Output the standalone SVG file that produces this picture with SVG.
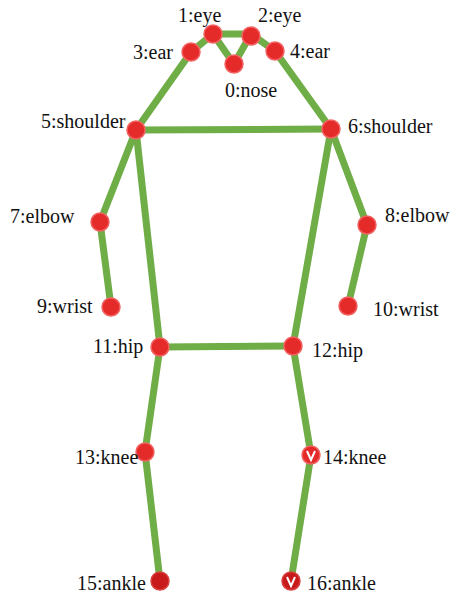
<svg xmlns="http://www.w3.org/2000/svg" width="456" height="599" viewBox="0 0 456 599">
<style>
.bone{stroke:#6fad47;stroke-width:7;stroke-linecap:round;fill:none}
.kp{fill:#e52a2a;stroke:#f26262;stroke-width:1.5}
.dark{fill:#c81a1a;stroke:#d84040;stroke-width:1.5}
.v{stroke:#fff;stroke-width:2;fill:none}
.lbl{font-family:'Liberation Serif','Times New Roman',Times,serif;font-size:20px;fill:#111}
</style>
<rect width="456" height="599" fill="#fff"/>
<g id="connectors">
<line class="bone" x1="213" y1="34" x2="251" y2="34"/>
<line class="bone" x1="213" y1="34" x2="234" y2="64"/>
<line class="bone" x1="251" y1="34" x2="234" y2="64"/>
<line class="bone" x1="213" y1="34" x2="191" y2="52"/>
<line class="bone" x1="251" y1="34" x2="275" y2="51"/>
<line class="bone" x1="191" y1="52" x2="136" y2="130"/>
<line class="bone" x1="275" y1="51" x2="331" y2="129"/>
<line class="bone" x1="136" y1="130" x2="331" y2="129"/>
<line class="bone" x1="136" y1="130" x2="100" y2="222"/>
<line class="bone" x1="100" y1="222" x2="111" y2="307"/>
<line class="bone" x1="331" y1="129" x2="367" y2="225"/>
<line class="bone" x1="367" y1="225" x2="348" y2="306"/>
<line class="bone" x1="136" y1="130" x2="160" y2="347"/>
<line class="bone" x1="331" y1="129" x2="293" y2="346"/>
<line class="bone" x1="160" y1="347" x2="293" y2="346"/>
<line class="bone" x1="160" y1="347" x2="145" y2="452"/>
<line class="bone" x1="145" y1="452" x2="160" y2="581"/>
<line class="bone" x1="293" y1="346" x2="311" y2="455"/>
<line class="bone" x1="311" y1="455" x2="291" y2="581"/>
</g>
<g font-family="Liberation Serif, Times New Roman, serif" font-size="20" fill="#111">
<g id="n0"><circle class="kp" cx="234" cy="64" r="9"/><text class="lbl" x="225" y="97">0:nose</text></g>
<g id="n1"><circle class="kp" cx="213" cy="34" r="9"/><text class="lbl" x="178" y="22">1:eye</text></g>
<g id="n2"><circle class="kp" cx="251" cy="36" r="9"/><text class="lbl" x="258" y="22">2:eye</text></g>
<g id="n3"><circle class="kp" cx="191" cy="52" r="9"/><text class="lbl" x="133" y="59">3:ear</text></g>
<g id="n4"><circle class="kp" cx="275" cy="51" r="9"/><text class="lbl" x="290" y="58">4:ear</text></g>
<g id="n5"><circle class="kp" cx="136" cy="130" r="9"/><text class="lbl" x="41" y="128">5:shoulder</text></g>
<g id="n6"><circle class="kp" cx="331" cy="129" r="9"/><text class="lbl" x="348" y="133">6:shoulder</text></g>
<g id="n7"><circle class="kp" cx="100" cy="222" r="9"/><text class="lbl" x="10" y="223">7:elbow</text></g>
<g id="n8"><circle class="kp" cx="367" cy="225" r="9"/><text class="lbl" x="385" y="222">8:elbow</text></g>
<g id="n9"><circle class="kp" cx="111" cy="307" r="9"/><text class="lbl" x="37" y="313">9:wrist</text></g>
<g id="n10"><circle class="kp" cx="348" cy="306" r="9"/><text class="lbl" x="373" y="316">10:wrist</text></g>
<g id="n11"><circle class="kp" cx="160" cy="347" r="9"/><text class="lbl" x="93" y="353">11:hip</text></g>
<g id="n12"><circle class="kp" cx="293" cy="346" r="9"/><text class="lbl" x="312" y="357">12:hip</text></g>
<g id="n13"><circle class="kp" cx="145" cy="452" r="9"/><text class="lbl" x="75" y="464">13:knee</text></g>
<g id="n14"><circle class="kp" cx="311" cy="455" r="9"/><polyline class="v" points="307,451 311,460 315,451"/><text class="lbl" x="323" y="464">14:knee</text></g>
<g id="n15"><circle class="dark" cx="160" cy="581" r="9"/><text class="lbl" x="77" y="590">15:ankle</text></g>
<g id="n16"><circle class="dark" cx="291" cy="581" r="9"/><polyline class="v" points="287,577 291,586 295,577"/><text class="lbl" x="307" y="590">16:ankle</text></g>
</g>
</svg>
